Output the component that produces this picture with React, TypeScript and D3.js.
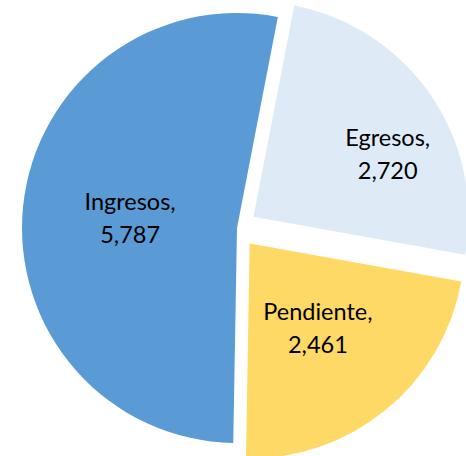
import React, { useEffect, useRef } from 'react';
import * as d3 from 'd3';

const categories = ['Ingresos', 'Egresos', 'Pendiente'];
const values = [5787, 2720, 2461];
const colors = ['#5B9BD5', '#DEEBF7', '#FFD966'];

const W = 466;
const H = 456;

const App = () => {
    const svgRef = useRef<SVGSVGElement>(null);

    useEffect(() => {
        const svg = d3.select(svgRef.current);
        svg.selectAll('*').remove();

        const cx = 237;
        const cy = 228;
        const radius = 215;
        const start = (181 * Math.PI) / 180;

        // explode all but the first slice, like the Excel original
        const explode = (i: number) => (i === 0 ? 0 : 20);
        // how far out along the mid angle the label sits (fraction of radius)
        const labelR = (i: number) => (i === 1 ? 0.69 : 0.5);
        const labelTurn = (i: number) => (i === 1 ? 0.16 : 0);

        const pie = d3.pie<number>()
            .sort(null)
            .startAngle(start)
            .endAngle(start + 2 * Math.PI);

        const arcs = pie(values);

        const arc = d3.arc<d3.PieArcDatum<number>>()
            .innerRadius(0)
            .outerRadius(radius);

        const g = svg.append('g')
            .attr('transform', `translate(${cx},${cy})`);

        const slice = g.selectAll('g.slice')
            .data(arcs)
            .join('g')
            .attr('class', 'slice')
            .attr('transform', (d, i) => {
                const mid = (d.startAngle + d.endAngle) / 2;
                const off = explode(i);
                return `translate(${off * Math.sin(mid)},${-off * Math.cos(mid)})`;
            });

        slice.append('path')
            .attr('d', arc)
            .attr('fill', (d, i) => colors[i]);

        const label = slice.append('text')
            .attr('transform', (d, i) => {
                const mid = (d.startAngle + d.endAngle) / 2 + labelTurn(i);
                const r = radius * labelR(i);
                return `translate(${r * Math.sin(mid)},${-r * Math.cos(mid)})`;
            })
            .attr('text-anchor', 'middle')
            .style('font-family', 'Lato, sans-serif')
            .style('font-size', '23.5px')
            .style('fill', '#000');

        label.append('tspan')
            .attr('x', 0)
            .attr('y', -7)
            .text((d, i) => `${categories[i]},`);

        label.append('tspan')
            .attr('x', 0)
            .attr('y', 26)
            .text(d => d3.format(',')(d.data));
    }, []);

    return (
        <svg ref={svgRef} width={W} height={H}
            style={{ position: 'absolute', left: 0, top: 0, background: '#fff' }} />
    );
};

export default App;
